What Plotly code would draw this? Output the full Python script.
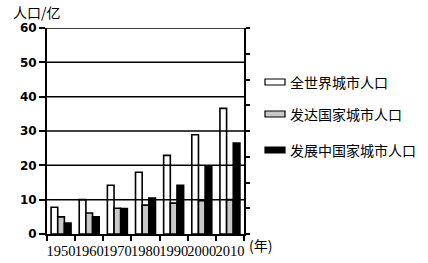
import plotly.graph_objects as go

years = ["1950", "1960", "1970", "1980", "1990", "2000", "2010"]
world = [7.8, 10.0, 14.2, 18.0, 22.9, 28.9, 36.6]
developed = [5.0, 6.1, 7.5, 8.4, 9.0, 9.7, 10.0]
developing = [3.2, 5.0, 7.4, 10.5, 14.2, 19.8, 26.5]
names = ["全世界城市人口", "发达国家城市人口", "发展中国家城市人口"]
colors = ["#ffffff", "#c8c8c8", "#000000"]
yticks = [0, 10, 20, 30, 40, 50, 60]
right_ticks = [0, 7.5, 15, 22.5, 30, 37.5, 45, 52.5, 60]

W, H = 428, 263
ML, MR, MT, MB = 47, 184, 28, 29
PW, PH = W - ML - MR, H - MT - MB

def px(x):
    return (x - ML) / PW

def py(y):
    return (H - MB - y) / PH

CJK = "Noto Sans CJK SC, sans-serif"

fig = go.Figure()
for name, vals, col in zip(names, [world, developed, developing], colors):
    fig.add_trace(go.Bar(x=years, y=vals, name=name, marker=dict(color=col, line=dict(color="black", width=1.6)),
                         showlegend=False))

fig.add_trace(go.Scatter(x=years, y=[None] * len(years), yaxis="y2", showlegend=False, hoverinfo="skip"))

shapes = []
for v in yticks:
    if v > 0:
        shapes.append(dict(type="line", xref="paper", yref="y", x0=0, x1=1, y0=v, y1=v,
                           line=dict(color="black", width=1.5), layer="above"))

annotations = [
    dict(text="人口/亿", xref="paper", yref="paper", x=px(11), y=py(12), xanchor="left", yanchor="middle",
         showarrow=False, font=dict(family=CJK, size=14, color="black")),
    dict(text="(年)", xref="paper", yref="paper", x=px(247), y=py(245), xanchor="left", yanchor="middle",
         showarrow=False, font=dict(family=CJK, size=14, color="black")),
]
rows = [82, 114, 150]
for name, col, yc in zip(names, colors, rows):
    shapes.append(dict(type="rect", xref="paper", yref="paper", x0=px(265), x1=px(285),
                       y0=py(yc + 3), y1=py(yc - 3), fillcolor=col, line=dict(color="black", width=1.2)))
    annotations.append(dict(text=name, xref="paper", yref="paper", x=px(288), y=py(yc), xanchor="left",
                            yanchor="middle", showarrow=False, font=dict(family=CJK, size=14, color="black")))

fig.update_layout(
    width=W, height=H, margin=dict(l=ML, r=MR, t=MT, b=MB),
    paper_bgcolor="white", plot_bgcolor="white",
    barmode="group", bargap=0.29, bargroupgap=0,
    shapes=shapes, annotations=annotations,
    xaxis=dict(type="category", tickson="boundaries", ticks="outside", ticklen=5, tickwidth=1.5,
               tickcolor="black", showline=True, linecolor="black", linewidth=2, showgrid=False,
               automargin=False, ticklabelstandoff=3,
               tickfont=dict(family="Liberation Serif, serif", size=14.5, color="black"), tickangle=0),
    yaxis=dict(range=[0, 60], tickvals=yticks, ticks="outside", ticklen=6, tickwidth=1.5, tickcolor="black",
               showline=True, linecolor="black", linewidth=2, showgrid=False, zeroline=False,
               automargin=False,
               tickfont=dict(family="DejaVu Sans, sans-serif", size=12, color="black", weight="bold")),
    yaxis2=dict(range=[0, 60], overlaying="y", side="right", tickvals=right_ticks, ticks="outside", ticklen=4,
                tickwidth=1.5, tickcolor="black", showline=True, linecolor="black", linewidth=2,
                showticklabels=False, showgrid=False, zeroline=False, automargin=False),
)

fig.write_html("out.html")
